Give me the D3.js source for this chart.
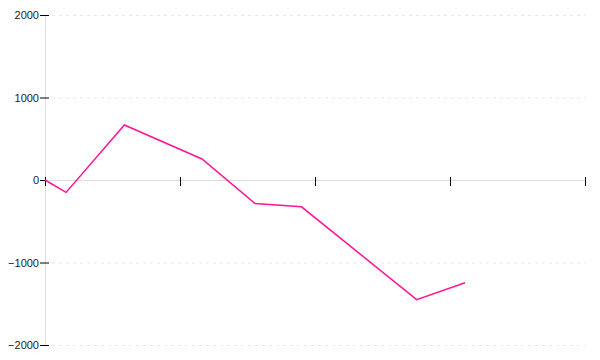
<!DOCTYPE html>
<html>
<head>
<meta charset="utf-8">
<script src="https://cdn.jsdelivr.net/npm/d3@7"></script>
<style>
  body { margin: 0; background: #fff; }
  svg { display: block; font-family: "Liberation Sans", Arial, sans-serif; }
</style>
</head>
<body>
<svg id="chart" width="600" height="360"></svg>
<script>
// data (x in tick units, y in value units)
const xValues = [0, 0.156, 0.588, 1.163, 1.556, 1.9, 2.753, 3.111];
const yValues = [0, -150, 667, 255, -285, -325, -1450, -1245];
const yTicks = [-2000, -1000, 0, 1000, 2000];
const xTicks = [0, 1, 2, 3, 4];

const width = 600;
const height = 360;
const margin = { top: 15, right: 15, bottom: 15, left: 45 };

const svg = d3.select("#chart");

const x = d3.scaleLinear()
  .domain([0, 4])
  .range([margin.left, width - margin.right]);

const y = d3.scaleLinear()
  .domain([-2000, 2000])
  .range([height - margin.bottom, margin.top]);

// horizontal dashed grid
svg.append("g")
  .selectAll("line")
  .data(yTicks.filter(d => d !== 0))
  .enter()
  .append("line")
  .attr("x1", margin.left + 7)
  .attr("x2", width - margin.right)
  .attr("y1", d => y(d) + 0.5)
  .attr("y2", d => y(d) + 0.5)
  .attr("stroke", "#e6e6e6")
  .attr("stroke-dasharray", "3,4");

// y axis
const yAxis = svg.append("g")
  .attr("transform", "translate(" + margin.left + ",0)")
  .call(d3.axisLeft(y).tickValues(yTicks).tickSize(5).tickFormat(d3.format("d")));
yAxis.select(".domain").attr("stroke", "#ddd").attr("d", "M0.5," + y(2000) + "V" + y(-2000));
yAxis.selectAll(".tick line").attr("x1", -5).attr("x2", 4).attr("stroke", "#000");
yAxis.selectAll(".tick text")
  .attr("x", -6)
  .attr("fill", "#222")
  .style("font-size", "11px")
  .text(d => d < 0 ? "\u2212" + Math.abs(d) : d);

// x axis through zero
const xAxis = svg.append("g")
  .attr("transform", "translate(0," + y(0) + ")")
  .call(d3.axisBottom(x).tickValues(xTicks).tickSize(5).tickFormat(""));
xAxis.select(".domain").attr("stroke", "#ddd").attr("d", "M" + x(0) + ",0.5H" + x(4));
xAxis.selectAll(".tick line").attr("y1", -3).attr("y2", 6).attr("stroke", "#000");

// series line
const line = d3.line()
  .x((d, i) => x(xValues[i]))
  .y(d => y(d));

svg.append("path")
  .datum(yValues)
  .attr("fill", "none")
  .attr("stroke", "#ff1493")
  .attr("stroke-width", 1.5)
  .attr("d", line);
</script>
</body>
</html>
